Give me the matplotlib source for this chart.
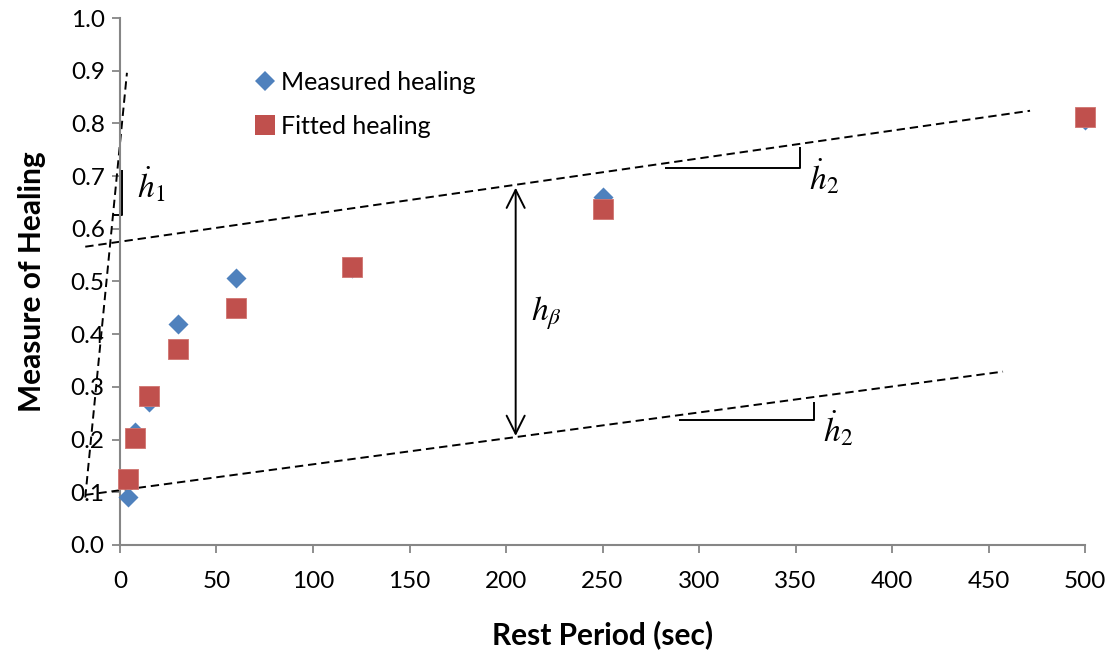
import matplotlib
matplotlib.use("Agg")
import matplotlib.pyplot as plt
from matplotlib.lines import Line2D

plt.rcParams['font.family'] = ['Lato', 'DejaVu Sans']
plt.rcParams['mathtext.fontset'] = 'stix'

# Rest period (sec) and healing measures
rest_period = [4, 8, 15, 30, 60, 120, 250, 500]
measured_healing = [0.091, 0.215, 0.272, 0.420, 0.507, 0.526, 0.661, 0.806]
fitted_healing = [0.126, 0.203, 0.283, 0.372, 0.450, 0.528, 0.638, 0.813]

x_ticks = [0, 50, 100, 150, 200, 250, 300, 350, 400, 450, 500]
y_ticks = [0.0, 0.1, 0.2, 0.3, 0.4, 0.5, 0.6, 0.7, 0.8, 0.9, 1.0]

# Guide lines: initial slope, upper and lower asymptotes
h1_line_x = [-18, 3.6]
h1_line_y = [0.09, 0.896]
upper_x = [-18, 471.5]
upper_y = [0.566, 0.824]
lower_x = [-18, 457.5]
lower_y = [0.095, 0.329]

blue = '#4F81BD'
red = '#C0504D'
axis_gray = '#868686'

fig = plt.figure(figsize=(11.09, 6.57), dpi=100)
ax = fig.add_axes([0.1082, 0.1705, 0.8702, 0.8021])

ax.scatter(rest_period, measured_healing, marker='D', s=10.2**2, color=blue,
           linewidths=0, zorder=3, clip_on=False)
ax.scatter(rest_period, fitted_healing, marker='s', s=14.4**2, color=red,
           edgecolors='#D07470', linewidths=0.6, zorder=4, clip_on=False)

dash = dict(color='black', lw=1.4, linestyle=(0, (4.3, 2.5)), clip_on=False, zorder=2)
ax.plot(h1_line_x, h1_line_y, **dash)
ax.plot(upper_x, upper_y, **dash)
ax.plot(lower_x, lower_y, **dash)

solid = dict(color='black', lw=1.4, clip_on=False, zorder=2, solid_capstyle='butt')
# slope marker for initial rate
ax.plot([1, 1, -3.6], [0.712, 0.627, 0.627], **solid)
# slope markers for steady rate
ax.plot([282.4, 352.5, 352.5], [0.716, 0.716, 0.756], **solid)
ax.plot([289.6, 359.6, 359.6], [0.237, 0.237, 0.272], **solid)

ax.annotate('', xy=(205, 0.207), xytext=(205, 0.678),
            arrowprops=dict(arrowstyle='<->,head_length=1.3,head_width=0.65',
                            lw=1.4, color='black', shrinkA=0, shrinkB=0))

ax.text(9, 0.685, r'$\dot{h}_1$', fontsize=24, ha='left', va='center')
ax.text(357, 0.70, r'$\dot{h}_2$', fontsize=24, ha='left', va='center')
ax.text(364, 0.222, r'$\dot{h}_2$', fontsize=24, ha='left', va='center')
ax.text(213, 0.44, r'$h_\beta$', fontsize=24, ha='left', va='center')

ax.set_xlim(0, 500)
ax.set_ylim(0, 1.0)
ax.set_xticks(x_ticks)
ax.set_yticks(y_ticks)
ax.set_yticklabels([f'{v:.1f}' for v in y_ticks])

for side in ('top', 'right'):
    ax.spines[side].set_visible(False)
for side in ('left', 'bottom'):
    ax.spines[side].set_color(axis_gray)
    ax.spines[side].set_linewidth(1.5)
ax.tick_params(axis='both', direction='out', length=6, width=1.3, color=axis_gray,
               labelsize=17.5, labelcolor='black')
ax.tick_params(axis='x', pad=13)
ax.tick_params(axis='y', pad=5)

ax.set_xlabel('Rest Period (sec)', fontsize=21.5, fontweight='bold', labelpad=20)
ax.set_ylabel('Measure of Healing', fontsize=21.5, fontweight='bold', labelpad=18)

handles = [
    Line2D([], [], marker='D', linestyle='none', markersize=10.2, color=blue,
           markeredgewidth=0),
    Line2D([], [], marker='s', linestyle='none', markersize=14.4, color=red,
           markeredgewidth=0),
]
ax.legend(handles, ['Measured healing', 'Fitted healing'], frameon=False,
          loc='upper left', bbox_to_anchor=(0.14, 0.90), fontsize=18,
          handlelength=0.8, handletextpad=0.25, labelspacing=0.85,
          borderpad=0, borderaxespad=0)

fig.savefig('out.png', dpi=100)
